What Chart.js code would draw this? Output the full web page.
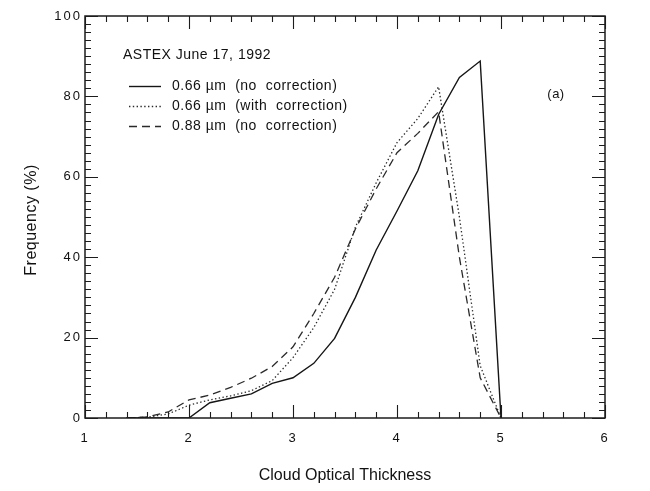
<!DOCTYPE html>
<html>
<head>
<meta charset="utf-8">
<script src="https://cdn.jsdelivr.net/npm/chart.js@4/dist/chart.umd.min.js"></script>
<style>
  html, body { margin: 0; padding: 0; background: #fff; }
  #wrap { width: 650px; height: 491px; }
</style>
</head>
<body>
<div id="wrap"><canvas id="c" width="650" height="491"></canvas></div>
<script>
// Cloud optical thickness bins (log scale units as plotted)
const thickness = [1.4, 1.6, 1.8, 2.0, 2.2, 2.4, 2.6, 2.8, 3.0, 3.2, 3.4, 3.6, 3.8, 4.0, 4.2, 4.4, 4.6, 4.8, 5.0];

// Frequency (%) per bin for each retrieval
const freq066 = [0, 0, 0, 0, 3.8, 4.9, 6.0, 8.6, 10.0, 13.6, 19.8, 30.0, 41.8, 51.5, 61.5, 75.5, 84.7, 88.8, 0];
const freq066Corrected = [0, 0.2, 1.0, 3.2, 4.5, 5.5, 6.8, 9.3, 15.0, 22.5, 32.0, 47.5, 58.5, 68.5, 74.5, 82.4, 50.0, 13.0, 0];
const freq088 = [0, 0.3, 1.5, 4.5, 5.7, 7.6, 9.9, 12.8, 17.7, 26.0, 35.0, 47.0, 57.0, 66.0, 70.8, 76.2, 40.0, 10.0, 0];

const seriesLabels = ['0.66 \u00b5m  (no  correction)', '0.66 \u00b5m  (with  correction)', '0.88 \u00b5m  (no  correction)'];
const caseTitle = 'ASTEX June 17, 1992';
const panelTag = '(a)';
const xTitle = 'Cloud Optical Thickness';
const yTitle = 'Frequency (%)';

// Axis ranges and tick spacing
const xRange = [1, 6];
const yRange = [0, 100];
const xMajorStep = 1, xMinorStep = 0.2;
const yMajorStep = 20, yMinorStep = 2;

const FONT = '"Liberation Sans", Arial, Helvetica, sans-serif';
const INK = '#111';

const toPoints = (vals) => thickness.map((t, i) => ({ x: t, y: vals[i] }));

// Tick numerals are set a little wide, like the typewriter-style originals
const tickSpacing = {
  id: 'tickSpacing',
  beforeDraw(chart) { if ('letterSpacing' in chart.ctx) chart.ctx.letterSpacing = '2px'; },
  beforeDatasetsDraw(chart) { if ('letterSpacing' in chart.ctx) chart.ctx.letterSpacing = '0px'; }
};

// Frame, inward ticks on all four sides, axis titles, in-plot legend and panel tag
const decorations = {
  id: 'decorations',
  afterDatasetsDraw(chart) {
    const { ctx, chartArea: a, scales: { x, y } } = chart;
    ctx.save();
    if ('letterSpacing' in ctx) ctx.letterSpacing = '0px';
    ctx.strokeStyle = '#1c1c1c';
    ctx.lineWidth = 1.5;
    ctx.strokeRect(a.left, a.top, a.right - a.left, a.bottom - a.top);

    ctx.lineWidth = 1.1;
    ctx.beginPath();
    const nx = Math.round((x.max - x.min) / xMinorStep);
    const xEvery = Math.round(xMajorStep / xMinorStep);
    for (let i = 0; i <= nx; i++) {
      const px = Math.round(x.getPixelForValue(x.min + i * xMinorStep)) + 0.5;
      const len = (i % xEvery === 0) ? 13 : 6;
      ctx.moveTo(px, a.bottom); ctx.lineTo(px, a.bottom - len);
      ctx.moveTo(px, a.top); ctx.lineTo(px, a.top + len);
    }
    const ny = Math.round((y.max - y.min) / yMinorStep);
    const yEvery = Math.round(yMajorStep / yMinorStep);
    for (let i = 0; i <= ny; i++) {
      const py = Math.round(y.getPixelForValue(y.min + i * yMinorStep)) + 0.5;
      const len = (i % yEvery === 0) ? 13 : 6;
      ctx.moveTo(a.left, py); ctx.lineTo(a.left + len, py);
      ctx.moveTo(a.right, py); ctx.lineTo(a.right - len, py);
    }
    ctx.stroke();

    ctx.fillStyle = INK;
    ctx.textBaseline = 'middle';

    // Axis titles
    ctx.font = '16px ' + FONT;
    ctx.textAlign = 'center';
    ctx.fillText(xTitle, (a.left + a.right) / 2, 476);
    ctx.save();
    ctx.translate(32, 220);
    ctx.rotate(-Math.PI / 2);
    if ('letterSpacing' in ctx) ctx.letterSpacing = '0.5px';
    ctx.fillText(yTitle, 0, 0);
    ctx.restore();

    // Legend block
    ctx.textAlign = 'left';
    ctx.font = '14px ' + FONT;
    if ('letterSpacing' in ctx) ctx.letterSpacing = '0.5px';
    ctx.fillText(caseTitle, 123, 55);

    const rowY = [86, 106, 126];
    chart.data.datasets.forEach((ds, i) => {
      ctx.save();
      ctx.strokeStyle = ds.borderColor;
      ctx.lineWidth = ds.borderWidth;
      ctx.setLineDash(ds.borderDash || []);
      ctx.beginPath();
      ctx.moveTo(129, rowY[i] + 0.5);
      ctx.lineTo(161, rowY[i] + 0.5);
      ctx.stroke();
      ctx.restore();
      ctx.fillText(ds.label, 172, rowY[i]);
    });

    ctx.font = '13px ' + FONT;
    ctx.textAlign = 'center';
    ctx.fillText(panelTag, 556, 94);
    ctx.restore();
  }
};

new Chart(document.getElementById('c'), {
  type: 'line',
  data: {
    datasets: [
      { label: seriesLabels[0], data: toPoints(freq066), borderColor: '#151515', borderWidth: 1.4, borderDash: [] },
      { label: seriesLabels[1], data: toPoints(freq066Corrected), borderColor: '#2a2a2a', borderWidth: 1.3, borderDash: [1.4, 2.4] },
      { label: seriesLabels[2], data: toPoints(freq088), borderColor: '#2a2a2a', borderWidth: 1.3, borderDash: [8, 5] }
    ]
  },
  options: {
    responsive: false,
    animation: false,
    devicePixelRatio: 1,
    layout: { padding: { top: 16, right: 45, left: 0, bottom: 0 } },
    elements: { point: { radius: 0 }, line: { tension: 0, fill: false } },
    plugins: { legend: { display: false }, tooltip: { enabled: false } },
    scales: {
      x: {
        type: 'linear', min: xRange[0], max: xRange[1],
        afterFit(s) { s.height = 73; },
        grid: { display: false, drawTicks: false },
        border: { display: false },
        ticks: { stepSize: xMajorStep, padding: 13, color: INK, font: { family: FONT, size: 13 }, maxRotation: 0, autoSkip: false }
      },
      y: {
        type: 'linear', min: yRange[0], max: yRange[1],
        afterFit(s) { s.width = 85; },
        grid: { display: false, drawTicks: false },
        border: { display: false },
        ticks: { stepSize: yMajorStep, padding: 3, color: INK, font: { family: FONT, size: 13 } }
      }
    }
  },
  plugins: [tickSpacing, decorations]
});
</script>
</body>
</html>
